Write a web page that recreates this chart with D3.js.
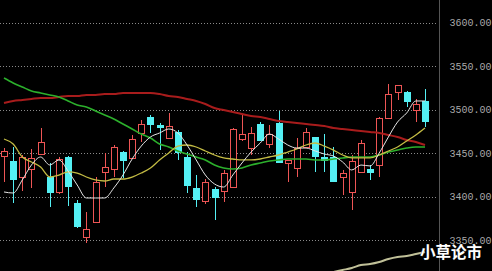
<!DOCTYPE html>
<html>
<head>
<meta charset="utf-8">
<script src="https://cdn.jsdelivr.net/npm/d3@7"></script>
<style>
  html, body { margin: 0; padding: 0; background: #000; overflow: hidden; }
  svg { display: block; }
</style>
</head>
<body>
<svg id="chart"></svg>
<script>
// daily candles
const opens  = [3446.6, 3440.8, 3422.4, 3431.6, 3448.8, 3422.4, 3405.2, 3445.4, 3392.5, 3353.4,
                3370.7, 3428.2, 3431.6, 3451.1, 3444.3, 3473.0, 3491.4, 3482.2, 3467.2, 3474.1,
                3445.4, 3409.8, 3394.8, 3408.6, 3406.3, 3410.9, 3466.1, 3455.7, 3483.3, 3460.3,
                3484.5, 3438.5, 3432.8, 3456.9, 3468.4, 3445.4, 3445.4, 3422.4, 3405.2, 3428.2,
                3431.6, 3436.2, 3490.2, 3520.1, 3520.1, 3499.4, 3509.8];
const highs  = [3455.7, 3456.9, 3447.7, 3454.6, 3478.7, 3438.5, 3445.4, 3446.6, 3396.0, 3382.2,
                3422.4, 3450.0, 3459.2, 3452.3, 3470.7, 3487.9, 3493.7, 3484.5, 3496.0, 3476.4,
                3451.1, 3424.7, 3420.1, 3410.9, 3430.5, 3478.7, 3494.8, 3479.9, 3485.6, 3482.2,
                3498.3, 3442.0, 3467.2, 3478.7, 3468.4, 3471.8, 3456.9, 3430.5, 3447.7, 3464.9,
                3436.2, 3491.4, 3529.3, 3528.2, 3521.3, 3512.1, 3523.6];
const lows   = [3416.7, 3392.5, 3406.3, 3409.8, 3447.7, 3387.9, 3402.9, 3389.1, 3363.8, 3346.6,
                3369.5, 3410.9, 3422.4, 3421.3, 3443.1, 3462.6, 3473.0, 3453.4, 3466.1, 3442.0,
                3404.0, 3387.9, 3391.4, 3373.0, 3393.7, 3409.8, 3463.8, 3447.7, 3463.8, 3455.7,
                3438.5, 3416.7, 3422.4, 3455.7, 3428.2, 3428.2, 3416.7, 3401.7, 3384.5, 3427.0,
                3419.0, 3422.4, 3489.0, 3510.9, 3502.9, 3485.6, 3479.9];
const closes = [3452.3, 3420.1, 3445.4, 3444.3, 3462.6, 3405.2, 3443.1, 3412.1, 3366.1, 3362.6,
                3416.7, 3433.9, 3456.9, 3442.0, 3466.1, 3483.3, 3483.3, 3479.9, 3481.0, 3451.1,
                3413.2, 3397.1, 3416.7, 3399.4, 3427.0, 3477.6, 3471.8, 3473.0, 3465.0, 3471.8,
                3439.7, 3442.0, 3455.7, 3474.1, 3446.6, 3442.0, 3417.8, 3427.0, 3440.8, 3461.5,
                3428.2, 3490.2, 3517.8, 3528.2, 3509.8, 3506.3, 3486.8];

// moving averages as drawn (they start before the visible window)
const ma5  = [3405.2, 3404.0, 3419.0, 3436.2, 3445.4, 3436.2, 3442.0, 3429.3, 3413.2, 3398.3,
              3398.3, 3398.3, 3409.8, 3424.7, 3443.1, 3458.0, 3468.4, 3473.0, 3477.6, 3473.0,
              3459.2, 3442.0, 3424.7, 3414.4, 3410.9, 3424.7, 3438.5, 3451.1, 3461.5, 3471.8,
              3466.1, 3459.2, 3455.7, 3455.7, 3452.3, 3448.8, 3446.5, 3439.7, 3430.5, 3436.2,
              3435.1, 3450.0, 3468.4, 3485.6, 3496.0, 3509.8, 3509.8];
const ma10 = [3466.1, 3460.3, 3445.4, 3439.7, 3433.9, 3422.4, 3424.7, 3428.2, 3427.0, 3422.4,
              3419.0, 3417.8, 3420.1, 3420.1, 3422.4, 3427.0, 3432.8, 3442.0, 3450.0, 3458.0,
              3459.2, 3456.9, 3452.3, 3447.7, 3444.3, 3443.1, 3442.0, 3442.0, 3443.1, 3445.4,
              3447.7, 3451.1, 3454.6, 3459.2, 3461.5, 3458.0, 3453.4, 3447.7, 3444.3, 3444.3,
              3444.3, 3447.7, 3452.3, 3456.9, 3463.8, 3470.7, 3478.7];
const ma20 = [3536.2, 3530.5, 3525.9, 3521.3, 3519.0, 3516.7, 3514.4, 3509.8, 3505.2, 3502.9,
              3498.3, 3493.7, 3489.1, 3483.3, 3477.6, 3471.8, 3467.2, 3460.3, 3456.9, 3452.3,
              3448.8, 3445.4, 3442.0, 3436.2, 3432.8, 3431.6, 3432.8, 3436.2, 3438.5, 3440.8,
              3442.0, 3443.1, 3443.1, 3443.1, 3442.0, 3442.0, 3443.1, 3444.3, 3445.4, 3445.4,
              3445.4, 3447.7, 3451.1, 3453.4, 3455.7, 3456.9, 3456.9];
const ma60 = [3507.5, 3509.8, 3510.9, 3512.1, 3513.2, 3513.2, 3514.4, 3515.5, 3515.5, 3516.7,
              3516.7, 3517.8, 3517.8, 3519.0, 3519.0, 3519.0, 3519.0, 3517.8, 3515.5, 3514.4,
              3512.1, 3509.8, 3506.3, 3501.7, 3499.4, 3497.1, 3494.8, 3492.5, 3491.4, 3489.1,
              3486.8, 3485.6, 3484.5, 3483.3, 3482.2, 3481.0, 3478.7, 3477.6, 3476.4, 3475.3,
              3474.1, 3473.0, 3470.7, 3468.4, 3464.9, 3462.6, 3459.2];
// long average, only its tail shows at the bottom
const ma250 = [null, null, null, null, null, null, null, null, null, null,
               null, null, null, null, null, null, null, null, null, null,
               null, null, null, null, null, null, null, null, null, null,
               null, null, null, null, null, 3311.0, 3313.2, 3315.5, 3317.8, 3321.3,
               3322.4, 3324.7, 3328.2, 3330.5, 3331.6, 3333.9, 3336.2];

const yTicks = [3350, 3400, 3450, 3500, 3550, 3600];

const width = 492, height = 271;
const upColor = "#ee5555", downColor = "#54f0f4";

const svg = d3.select("#chart")
    .attr("width", width)
    .attr("height", height);

svg.append("rect")
    .attr("width", width)
    .attr("height", height)
    .attr("fill", "#000");

const x = d3.scaleLinear().domain([0, opens.length - 1]).range([4, 425]);
const y = d3.scaleLinear().domain([3350, 3600]).range([240, 22.5]);

// dotted grid
svg.append("g")
    .selectAll("line")
    .data(yTicks)
    .join("line")
    .attr("x1", 0)
    .attr("x2", 437)
    .attr("y1", d => Math.round(y(d)) + 0.5)
    .attr("y2", d => Math.round(y(d)) + 0.5)
    .attr("stroke", "#8a8a8a")
    .attr("stroke-dasharray", "1,2");

// price axis on the right
const axis = d3.axisRight(y)
    .tickValues(yTicks)
    .tickFormat(d3.format(".2f"))
    .tickSize(0)
    .tickPadding(10);

const gAxis = svg.append("g")
    .attr("transform", "translate(439.5,0)")
    .call(axis);
gAxis.select(".domain").remove();
gAxis.selectAll("text")
    .attr("fill", "#a8a8a8")
    .style("font-family", "'Liberation Mono', monospace")
    .style("font-size", "10px");

svg.append("line")
    .attr("x1", 439.5).attr("x2", 439.5)
    .attr("y1", 0).attr("y2", height)
    .attr("stroke", "#555");

// candles
const idx = d3.range(opens.length);
const bw = 7;
const px = i => Math.round(x(i)) + 0.5;

const candles = svg.append("g").attr("shape-rendering", "crispEdges");

candles.selectAll("line.wick")
    .data(idx)
    .join("line")
    .attr("class", "wick")
    .attr("x1", px).attr("x2", px)
    .attr("y1", i => y(highs[i]))
    .attr("y2", i => y(lows[i]))
    .attr("stroke", i => closes[i] >= opens[i] ? upColor : downColor);

candles.selectAll("rect.body")
    .data(idx)
    .join("rect")
    .attr("class", "body")
    .attr("x", i => px(i) - (bw - 1) / 2)
    .attr("y", i => Math.round(y(Math.max(opens[i], closes[i]))) + 0.5)
    .attr("width", bw - 1)
    .attr("height", i => Math.max(1, Math.round(Math.abs(y(opens[i]) - y(closes[i])))))
    .attr("fill", i => closes[i] >= opens[i] ? "#000" : downColor)
    .attr("stroke", i => closes[i] >= opens[i] ? upColor : downColor);

// averages
const lineGen = arr => d3.line()
    .defined(i => arr[i] != null)
    .x(i => x(i))
    .y(i => y(arr[i]))
    .curve(d3.curveMonotoneX)(idx);

const series = [
    { data: ma60,  color: "#a81c1c", w: 2 },
    { data: ma20,  color: "#2cb02c", w: 1.6 },
    { data: ma10,  color: "#c4bc44", w: 1.3 },
    { data: ma5,   color: "#e6e6e6", w: 1 },
    { data: ma250, color: "#c0c098", w: 2 }
];

svg.append("g")
    .selectAll("path")
    .data(series)
    .join("path")
    .attr("d", d => lineGen(d.data))
    .attr("fill", "none")
    .attr("stroke", d => d.color)
    .attr("stroke-width", d => d.w);

// watermark
svg.append("text")
    .attr("x", 420)
    .attr("y", 258)
    .attr("fill", "#fff")
    .attr("stroke", "#222")
    .attr("stroke-width", 0.6)
    .style("paint-order", "stroke")
    .style("font-family", "'Noto Sans CJK SC', sans-serif")
    .style("font-weight", "bold")
    .style("font-size", "15.5px")
    .text("小草论市");
</script>
</body>
</html>
